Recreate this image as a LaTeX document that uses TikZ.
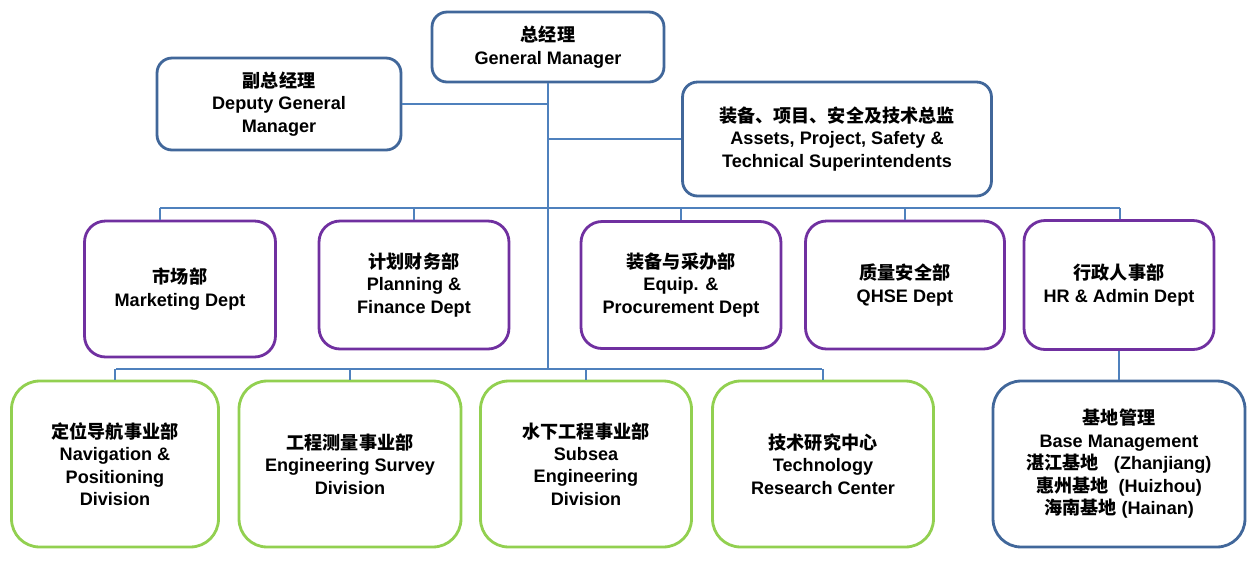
\documentclass[tikz,border=0pt]{standalone}
\usepackage{fontspec}
\setmainfont{Liberation Sans}
\newfontfamily\cjk{Noto Sans CJK SC}
\newcommand\zh[1]{{\cjk #1}}
\definecolor{boxblue}{HTML}{41679A}
\definecolor{lineblue}{HTML}{4F81BD}
\definecolor{deptpurple}{HTML}{7030A0}
\definecolor{divgreen}{HTML}{92D050}

\begin{document}
\begin{tikzpicture}[x=0.02cm,y=-0.02cm,
  box/.style={draw,fill=white,line width=1.6pt,align=center,inner sep=0pt,
    font=\fontsize{10.3}{12.8}\selectfont\bfseries},
  top node/.style={box,draw=boxblue,rounded corners=0.3cm},
  dept node/.style={box,draw=deptpurple,rounded corners=0.42cm},
  div node/.style={box,draw=divgreen,rounded corners=0.56cm,minimum height=3.32cm},
  link/.style={draw=lineblue,line width=1pt}]
  \useasboundingbox (0,0) rectangle (1258,562);
  % management
  \node[top node,minimum width=4.64cm,minimum height=1.4cm] (gm) at (548,47) {\zh{总经理}\\General Manager};
  \node[top node,minimum width=4.88cm,minimum height=1.84cm] (dgm) at (279,104) {\zh{副总经理}\\Deputy General\\Manager};
  \node[top node,minimum width=6.18cm,minimum height=2.28cm] (ast) at (837,139) {\zh{装备、项目、安全及技术总监}\\Assets, Project, Safety \&\\Technical Superintendents};
  % departments
  \node[dept node,minimum width=3.82cm,minimum height=2.72cm] (mkt) at (180,289) {\zh{市场部}\\Marketing Dept};
  \node[dept node,minimum width=3.8cm,minimum height=2.56cm] (plan) at (414,285) {\zh{计划财务部}\\Planning \&\\Finance Dept};
  \node[dept node,minimum width=4.0cm,minimum height=2.54cm] (equip) at (681,285) {\zh{装备与采办部}\\Equip. \&\\Procurement Dept};
  \node[dept node,minimum width=3.98cm,minimum height=2.56cm] (qhse) at (905,285) {\zh{质量安全部}\\QHSE Dept};
  \node[dept node,minimum width=3.8cm,minimum height=2.58cm] (hr) at (1119,285) {\zh{行政人事部}\\HR \& Admin Dept};
  % divisions
  \node[div node,minimum width=4.14cm] (nav) at (115,464) {\zh{定位导航事业部}\\Navigation \&\\Positioning\\Division};
  \node[div node,minimum width=4.44cm] (eng) at (350,464) {\zh{工程测量事业部}\\Engineering Survey\\Division};
  \node[div node,minimum width=4.22cm] (sub) at (586,464) {\zh{水下工程事业部}\\Subsea\\Engineering\\Division};
  \node[div node,minimum width=4.42cm] (tech) at (823,464) {\zh{技术研究中心}\\Technology\\Research Center};
  \node[top node,rounded corners=0.56cm,minimum width=5.04cm,minimum height=3.32cm] (base) at (1119,464) {\zh{基地管理}\\Base Management\\\zh{湛江基地}\ \ \ (Zhanjiang)\\\zh{惠州基地}\ \ (Huizhou)\\\zh{海南基地} (Hainan)};
  % connectors
  \coordinate (trunk) at (548,369);
  \coordinate (busL) at (160,208);
  \coordinate (busR) at (1120,208);
  \coordinate (lowL) at (116,369);
  \coordinate (lowR) at (822,369);
  \path[link] (gm.south) -- (trunk);
  \path[link] (dgm.east) -- (dgm.east -| gm.south);
  \path[link] (ast.west) -- (ast.west -| gm.south);
  \path[link] (busL) -- (busR);
  \path[link] (busL) -- (busL |- mkt.north);
  \path[link] (plan.north) -- (plan.north |- busL);
  \path[link] (equip.north) -- (equip.north |- busL);
  \path[link] (qhse.north) -- (qhse.north |- busL);
  \path[link] (busR) -- (busR |- hr.north);
  \path[link] (lowL) -- (lowR);
  \path[link] (nav.north) -- (nav.north |- lowL);
  \path[link] (eng.north) -- (eng.north |- lowL);
  \path[link] (sub.north) -- (sub.north |- lowL);
  \path[link] (tech.north) -- (tech.north |- lowL);
  \path[link] (hr.south) -- (base.north);
\end{tikzpicture}
\end{document}
